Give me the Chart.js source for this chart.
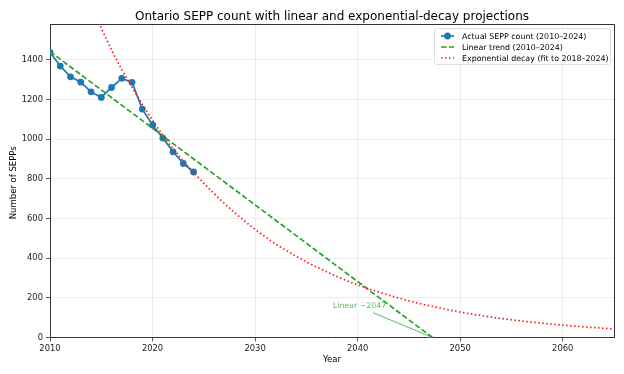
<!DOCTYPE html>
<html>
<head>
<meta charset="utf-8">
<script src="https://cdn.jsdelivr.net/npm/chart.js@4"></script>
<style>
html,body{margin:0;padding:0;background:#fff;}
#c{display:block;}
</style>
</head>
<body>
<canvas id="c" width="624" height="374"></canvas>
<script>
// ---- data ----
const years = [2010,2011,2012,2013,2014,2015,2016,2017,2018,2019,2020,2021,2022,2023,2024];
const actualCounts = [1437,1368,1314,1287,1238,1210,1260,1306,1286,1151,1071,1005,936,877,834];

const linearYears = [2010, 2047.3];
const linearValues = [1441, 0];

const expYears = [2014,2015,2016,2017,2018,2019,2020,2021,2022,2023,2024,2026,2028,2030,2032,2034,2036,2038,2040,2042,2044,2046,2048,2050,2052,2054,2056,2058,2060,2062,2065];
const expValues = [1680,1560,1450,1350,1262,1175,1095,1020,952,890,832,725,630,545,472,410,355,307,265,230,199,172,149,128,111,96,83,72,62,54,43];

const xTicks = [2010,2020,2030,2040,2050,2060];
const yTicks = [0,200,400,600,800,1000,1200,1400];

const annotationText = 'Linear ~2047';
const annotationTarget = [2047.3, 0];
const annotationTextPos = [2037.6, 159];
const annotationArrowStart = [2041.5, 125];

const seriesLabels = ['Actual SEPP count (2010\u20132024)','Linear trend (2010\u20132024)','Exponential decay (fit to 2018\u20132024)'];
const chartTitle = 'Ontario SEPP count with linear and exponential-decay projections';

const FONT = '"DejaVu Sans", sans-serif';
const BLUE = '#1f77b4', GREEN = '#2ca02c', RED = '#ff1a1a';

const toXY = (xs, ys) => xs.map((x, i) => ({x: x, y: ys[i]}));

const decor = {
  id: 'decor',
  afterDraw(chart) {
    const ctx = chart.ctx, a = chart.chartArea;
    const xs = chart.scales.x, ys = chart.scales.y;
    ctx.save();
    // frame (top & right)
    ctx.strokeStyle = '#333';
    ctx.lineWidth = 1;
    ctx.beginPath();
    ctx.moveTo(a.left, a.top + 0.5);
    ctx.lineTo(a.right + 0.5, a.top + 0.5);
    ctx.lineTo(a.right + 0.5, a.bottom);
    ctx.stroke();
    // title
    ctx.fillStyle = '#000';
    ctx.font = '12px ' + FONT;
    ctx.textAlign = 'center';
    ctx.textBaseline = 'alphabetic';
    ctx.fillText(chartTitle, (a.left + a.right) / 2, 19.5);
    // axis titles
    ctx.font = '8.5px ' + FONT;
    ctx.textBaseline = 'middle';
    ctx.fillText('Year', (a.left + a.right) / 2, 360);
    ctx.save();
    ctx.translate(14, (a.top + a.bottom) / 2 + 2);
    ctx.rotate(-Math.PI / 2);
    ctx.fillText('Number of SEPPs', 0, 0);
    ctx.restore();
    // annotation
    const tx = xs.getPixelForValue(annotationTextPos[0]), ty = ys.getPixelForValue(annotationTextPos[1]);
    const sx = xs.getPixelForValue(annotationArrowStart[0]), sy = ys.getPixelForValue(annotationArrowStart[1]);
    const ex = xs.getPixelForValue(annotationTarget[0]), ey = ys.getPixelForValue(annotationTarget[1]);
    ctx.fillStyle = 'rgba(44,160,44,0.75)';
    ctx.strokeStyle = 'rgba(44,160,44,0.85)';
    ctx.font = '7.8px ' + FONT;
    ctx.textAlign = 'left';
    ctx.fillText(annotationText, tx, ty);
    ctx.lineWidth = 0.9;
    ctx.beginPath(); ctx.moveTo(sx, sy); ctx.lineTo(ex, ey); ctx.stroke();
    const ang = Math.atan2(ey - sy, ex - sx), h = 5;
    ctx.beginPath();
    ctx.moveTo(ex - h * Math.cos(ang - 0.4), ey - h * Math.sin(ang - 0.4));
    ctx.lineTo(ex, ey);
    ctx.lineTo(ex - h * Math.cos(ang + 0.4), ey - h * Math.sin(ang + 0.4));
    ctx.stroke();
    // legend
    const lx = a.right - 180, ly = a.top + 4, lw = 176, lh = 36;
    ctx.fillStyle = 'rgba(255,255,255,0.8)';
    ctx.strokeStyle = '#d6d6d6';
    ctx.lineWidth = 0.8;
    ctx.beginPath();
    if (ctx.roundRect) ctx.roundRect(lx + 0.5, ly + 0.5, lw, lh, 2); else ctx.rect(lx + 0.5, ly + 0.5, lw, lh);
    ctx.fill(); ctx.stroke();
    ctx.font = '7.9px ' + FONT;
    ctx.textBaseline = 'middle';
    ctx.fillStyle = '#000';
    chart.data.datasets.forEach((ds, i) => {
      const yy = ly + 8 + i * 11;
      const x0 = lx + 7, x1 = lx + 20;
      ctx.save();
      ctx.strokeStyle = ds.borderColor;
      ctx.lineWidth = ds.borderWidth;
      ctx.setLineDash(ds.borderDash || []);
      ctx.beginPath(); ctx.moveTo(x0, yy); ctx.lineTo(x1, yy); ctx.stroke();
      if (ds.pointRadius > 0) {
        ctx.setLineDash([]);
        ctx.fillStyle = ds.pointBackgroundColor;
        ctx.beginPath(); ctx.arc((x0 + x1) / 2, yy, ds.pointRadius, 0, Math.PI * 2); ctx.fill();
      }
      ctx.restore();
      ctx.fillStyle = '#000';
      ctx.fillText(ds.label, lx + 28, yy + 0.5);
    });
    ctx.restore();
  }
};

new Chart(document.getElementById('c'), {
  type: 'line',
  data: {
    datasets: [
      {
        label: seriesLabels[0], data: toXY(years, actualCounts),
        borderColor: BLUE, backgroundColor: BLUE, pointBackgroundColor: BLUE, pointBorderColor: BLUE,
        borderWidth: 1.7, pointRadius: 3.4, pointBorderWidth: 0, tension: 0, order: 2
      },
      {
        label: seriesLabels[1], data: toXY(linearYears, linearValues),
        borderColor: GREEN, backgroundColor: GREEN, borderWidth: 1.7, borderDash: [5.5, 2.5],
        pointRadius: 0, tension: 0, order: 1
      },
      {
        label: seriesLabels[2], data: toXY(expYears, expValues),
        borderColor: RED, backgroundColor: RED, borderWidth: 1.7, borderDash: [1.5, 2.5],
        pointRadius: 0, cubicInterpolationMode: 'monotone', order: 0
      }
    ]
  },
  options: {
    responsive: false,
    animation: false,
    events: [],
    layout: { padding: { top: 24, right: 10, left: 0, bottom: 0 } },
    plugins: { legend: { display: false }, title: { display: false }, tooltip: { enabled: false } },
    scales: {
      x: {
        type: 'linear', min: 2010, max: 2065,
        afterFit: s => { s.height = 36.5; },
        afterBuildTicks: s => { s.ticks = xTicks.map(v => ({ value: v })); },
        ticks: { color: '#222', font: { family: FONT, size: 8.4 }, padding: 2, maxRotation: 0, callback: v => String(v) },
        grid: { color: '#e8e8e8', lineWidth: 0.8, tickColor: '#333', tickLength: 4, drawTicks: true },
        border: { color: '#333', width: 1 }
      },
      y: {
        type: 'linear', min: 0, max: 1580,
        afterFit: s => { s.width = 50; },
        afterBuildTicks: s => { s.ticks = yTicks.map(v => ({ value: v })); },
        ticks: { color: '#222', font: { family: FONT, size: 8.4 }, padding: 3, callback: v => String(v) },
        grid: { color: '#e8e8e8', lineWidth: 0.8, tickColor: '#333', tickLength: 4, drawTicks: true },
        border: { color: '#333', width: 1 }
      }
    }
  },
  plugins: [decor]
});
</script>
</body>
</html>
